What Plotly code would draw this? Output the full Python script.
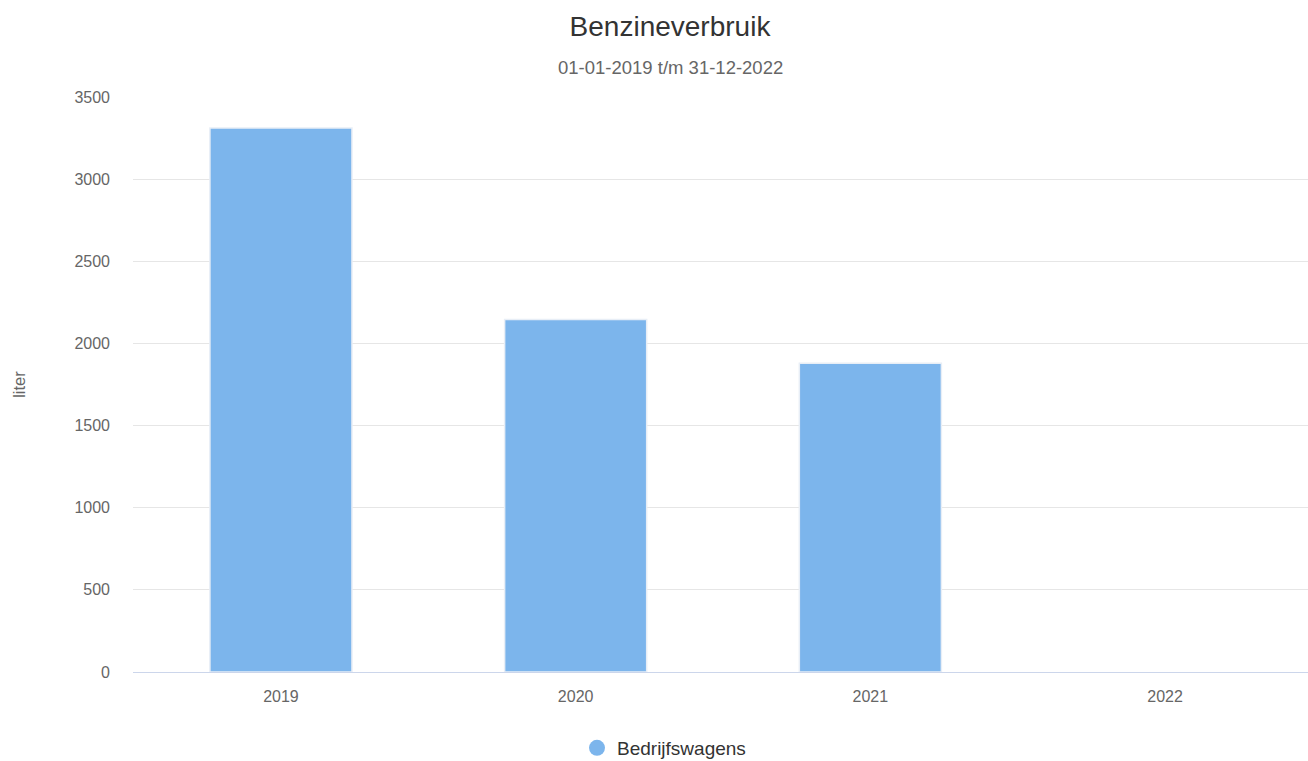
import plotly.graph_objects as go

years = ["2019", "2020", "2021", "2022"]
liters = [3311, 2145, 1880, 0]
series_name = "Bedrijfswagens"
bar_color = "#7cb5ec"

fig = go.Figure()
fig.add_trace(go.Bar(
    x=years, y=liters, name=series_name, showlegend=False,
    marker=dict(color=bar_color,
                line=dict(color="#e8eef6", width=[1.5 if v > 0 else 0 for v in liters])),
    width=0.482, hoverinfo="x+y",
))
fig.add_trace(go.Scatter(
    x=[None], y=[None], mode="markers", name=series_name,
    marker=dict(color=bar_color, size=16, symbol="circle"),
))

font_family = "Liberation Sans, Arial, sans-serif"
cx = (670 - 133) / 1175
fig.update_layout(
    width=1308, height=761,
    paper_bgcolor="white", plot_bgcolor="white",
    margin=dict(l=133, r=0, t=97, b=89, autoexpand=False),
    font=dict(family=font_family, color="#666666", size=16),
    title=dict(text="Benzineverbruik", x=670 / 1308, xanchor="center",
               y=1 - 26 / 761, yanchor="middle",
               font=dict(size=28, color="#333333", family=font_family)),
    annotations=[dict(text="01-01-2019 t/m 31-12-2022", xref="paper", yref="paper",
                      x=cx, y=(672 - 67) / 575, xanchor="center", yanchor="middle",
                      showarrow=False, font=dict(size=18.5, color="#666666"))],
    showlegend=True,
    legend=dict(orientation="h", x=(664 - 133) / 1175, xanchor="center",
                y=-76 / 575, yanchor="middle",
                font=dict(size=19, color="#333333"), itemsizing="trace"),
)
fig.update_xaxes(range=[-0.502, 3.485], showgrid=False, showline=True, linecolor="#ccd6eb", linewidth=1,
                 ticks="", tickfont=dict(size=16, color="#666666"), ticklabelstandoff=10)
fig.update_yaxes(range=[0, 3500], dtick=500, showgrid=True, gridcolor="#e6e6e6", gridwidth=1,
                 zeroline=False, showline=False, ticks="",
                 tickfont=dict(size=16, color="#666666"), ticklabelstandoff=22,
                 title=dict(text="liter", font=dict(size=16.5, color="#666666"), standoff=44))

fig.write_html("out.html", config={"displayModeBar": False},
               post_script="document.body.style.margin='0';")
